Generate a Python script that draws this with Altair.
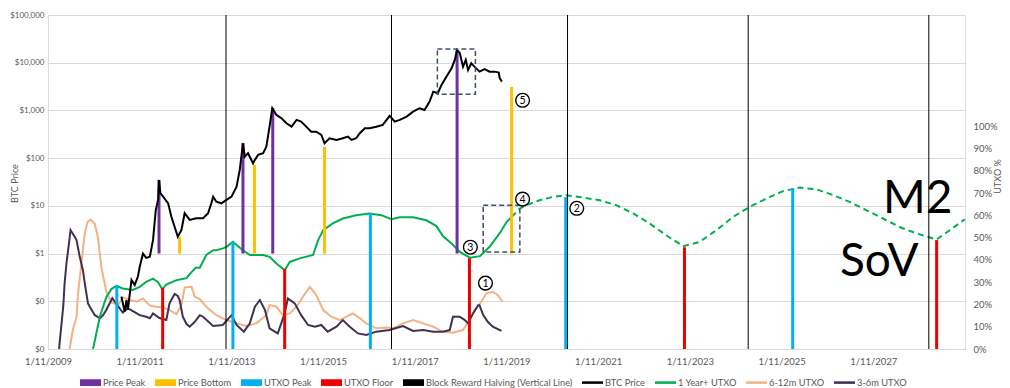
import altair as alt
import pandas as pd

# ---------------- data ----------------
price_years = [2010.63, 2010.70, 2010.74, 2010.77, 2010.85, 2010.92, 2010.99, 2011.03, 2011.10, 2011.17,
               2011.25, 2011.32, 2011.38, 2011.43, 2011.45, 2011.48, 2011.54, 2011.65, 2011.72, 2011.79,
               2011.86, 2011.94, 2012.01, 2012.12, 2012.26, 2012.41, 2012.52, 2012.59, 2012.63, 2012.70,
               2012.81, 2012.92, 2013.03, 2013.14, 2013.21, 2013.28, 2013.32, 2013.39, 2013.50, 2013.54,
               2013.61, 2013.72, 2013.79, 2013.86, 2013.92, 2014.01, 2014.12, 2014.23, 2014.34, 2014.45,
               2014.55, 2014.66, 2014.77, 2014.88, 2014.99, 2015.06, 2015.17, 2015.32, 2015.46, 2015.57,
               2015.65, 2015.75, 2015.83, 2015.94, 2016.04, 2016.19, 2016.33, 2016.48, 2016.59, 2016.70,
               2016.85, 2016.99, 2017.13, 2017.24, 2017.35, 2017.43, 2017.53, 2017.61, 2017.72, 2017.83,
               2017.90, 2017.95, 2018.01, 2018.08, 2018.14, 2018.19, 2018.26, 2018.33, 2018.44, 2018.55,
               2018.66, 2018.77, 2018.86, 2018.88, 2018.93]
price_usd = [0.125, 0.061, 0.106, 0.066, 0.28, 0.22, 0.33, 0.53, 1.0, 0.81,
             0.86, 1.93, 8.2, 13.3, 34.9, 18.4, 15.6, 11.3, 5.9, 3.66,
             2.26, 3.12, 7.0, 5.06, 5.5, 5.5, 7.0, 11.3, 15.6, 12.2,
             11.3, 13.3, 15.6, 25.3, 56.6, 205, 107, 127, 78, 92,
             117, 127, 174, 457, 1112, 805, 686, 539, 457, 632,
             582, 457, 359, 359, 306, 205, 261, 241, 261, 282,
             241, 261, 333, 423, 423, 457, 497, 767, 582, 632,
             741, 944, 1112, 1023, 1528, 2476, 2294, 3427, 5116, 7674,
             11450, 18500, 15820, 8280, 11450, 7060, 9770, 8280, 6500, 7310,
             6500, 6500, 6210, 4730, 4020]

lt_years = [2010.01, 2010.16, 2010.30, 2010.41, 2010.52, 2010.66, 2010.88, 2011.03, 2011.17, 2011.32,
            2011.43, 2011.52, 2011.61, 2011.83, 2012.05, 2012.16, 2012.25, 2012.34, 2012.48, 2012.63,
            2012.70, 2012.84, 2012.92, 2013.06, 2013.25, 2013.43, 2013.72, 2013.86, 2014.01, 2014.19,
            2014.30, 2014.52, 2014.81, 2014.92, 2015.03, 2015.24, 2015.46, 2015.75, 2016.04, 2016.30,
            2016.52, 2016.70, 2016.99, 2017.28, 2017.50, 2017.64, 2017.83, 2018.01, 2018.23, 2018.45,
            2018.66, 2018.88, 2019.03, 2019.14]
lt_pct = [0.0, 0.146, 0.233, 0.269, 0.283, 0.272, 0.265, 0.279, 0.302, 0.316,
          0.300, 0.269, 0.289, 0.309, 0.318, 0.345, 0.365, 0.365, 0.422, 0.444,
          0.444, 0.452, 0.459, 0.481, 0.448, 0.422, 0.422, 0.414, 0.384, 0.354,
          0.391, 0.407, 0.422, 0.489, 0.534, 0.564, 0.586, 0.601, 0.609, 0.601,
          0.583, 0.592, 0.592, 0.578, 0.552, 0.507, 0.474, 0.436, 0.410, 0.417,
          0.459, 0.520, 0.570, 0.593]

proj_years = [2019.14, 2019.32, 2019.46, 2019.75, 2020.04, 2020.33, 2020.62, 2021.06, 2021.42, 2021.79,
              2022.15, 2022.51, 2022.88, 2023.24, 2023.61, 2023.97, 2024.33, 2024.70, 2025.06, 2025.42,
              2025.79, 2026.15, 2026.51, 2026.88, 2027.24, 2027.60, 2027.97, 2028.41, 2028.70, 2029.02]
proj_pct = [0.593, 0.631, 0.646, 0.668, 0.683, 0.691, 0.683, 0.668, 0.646, 0.609,
            0.564, 0.511, 0.462, 0.481, 0.534, 0.593, 0.638, 0.676, 0.709, 0.725,
            0.717, 0.691, 0.661, 0.623, 0.586, 0.548, 0.519, 0.492, 0.534, 0.582]

mid_years = [2009.50, 2009.57, 2009.65, 2009.68, 2009.76, 2009.83, 2009.89, 2009.96, 2010.05, 2010.12,
             2010.19, 2010.30, 2010.41, 2010.56, 2010.66, 2010.81, 2010.96, 2011.10, 2011.25, 2011.39,
             2011.54, 2011.68, 2011.83, 2011.94, 2012.01, 2012.16, 2012.23, 2012.34, 2012.48, 2012.70,
             2012.92, 2013.14, 2013.36, 2013.57, 2013.79, 2013.86, 2014.01, 2014.15, 2014.30, 2014.45,
             2014.59, 2014.74, 2014.88, 2015.03, 2015.21, 2015.39, 2015.54, 2015.68, 2015.83, 2015.97,
             2016.19, 2016.41, 2016.55, 2016.77, 2016.99, 2017.21, 2017.43, 2017.64, 2017.86, 2018.08,
             2018.19, 2018.33, 2018.48, 2018.59, 2018.73, 2018.84, 2018.94]
mid_pct = [0.0, 0.085, 0.145, 0.242, 0.390, 0.520, 0.570, 0.581, 0.561, 0.498,
           0.369, 0.258, 0.209, 0.197, 0.231, 0.220, 0.212, 0.227, 0.195, 0.190,
           0.186, 0.175, 0.157, 0.197, 0.276, 0.279, 0.235, 0.224, 0.190, 0.152,
           0.130, 0.115, 0.103, 0.115, 0.152, 0.197, 0.190, 0.152, 0.160, 0.190,
           0.235, 0.279, 0.242, 0.175, 0.145, 0.130, 0.145, 0.160, 0.138, 0.115,
           0.093, 0.096, 0.093, 0.115, 0.130, 0.115, 0.100, 0.078, 0.073, 0.085,
           0.122, 0.175, 0.212, 0.250, 0.257, 0.242, 0.212]

short_years = [2009.27, 2009.28, 2009.36, 2009.39, 2009.43, 2009.52, 2009.61, 2009.65, 2009.72, 2009.79,
               2009.83, 2009.90, 2009.94, 2010.05, 2010.16, 2010.23, 2010.30, 2010.43, 2010.54, 2010.66,
               2010.77, 2010.88, 2011.03, 2011.17, 2011.25, 2011.32, 2011.46, 2011.61, 2011.68, 2011.79,
               2011.86, 2011.90, 2011.97, 2012.05, 2012.12, 2012.23, 2012.34, 2012.41, 2012.63, 2012.84,
               2013.03, 2013.14, 2013.30, 2013.43, 2013.54, 2013.65, 2013.76, 2013.86, 2014.04, 2014.19,
               2014.26, 2014.41, 2014.55, 2014.70, 2014.85, 2014.99, 2015.13, 2015.32, 2015.46, 2015.61,
               2015.79, 2015.97, 2016.19, 2016.48, 2016.77, 2016.99, 2017.21, 2017.43, 2017.64, 2017.79,
               2017.86, 2018.01, 2018.12, 2018.19, 2018.30, 2018.41, 2018.44, 2018.52, 2018.62, 2018.73,
               2018.92]
short_pct = [0.0, 0.025, 0.190, 0.295, 0.384, 0.534, 0.504, 0.489, 0.414, 0.354,
             0.295, 0.205, 0.190, 0.152, 0.138, 0.152, 0.175, 0.228, 0.197, 0.164,
             0.183, 0.170, 0.152, 0.145, 0.138, 0.160, 0.139, 0.130, 0.205, 0.247,
             0.238, 0.220, 0.145, 0.112, 0.100, 0.122, 0.152, 0.145, 0.103, 0.108,
             0.152, 0.108, 0.078, 0.115, 0.190, 0.220, 0.175, 0.093, 0.070, 0.160,
             0.227, 0.205, 0.152, 0.108, 0.100, 0.108, 0.078, 0.100, 0.130, 0.100,
             0.070, 0.063, 0.078, 0.085, 0.103, 0.081, 0.085, 0.078, 0.078, 0.085,
             0.145, 0.145, 0.130, 0.115, 0.160, 0.197, 0.197, 0.152, 0.122, 0.100,
             0.081]

peak_years = [2011.45, 2013.28, 2013.93, 2017.95]
peak_price = [34.9, 208, 1128, 18500]
bottom_years = [2011.90, 2013.53, 2015.06, 2019.14]
bottom_price = [2.23, 72, 172, 3110]
utxo_peak_years = [2010.53, 2013.06, 2016.06, 2020.32, 2025.27]
utxo_peak_pct = [0.287, 0.480, 0.610, 0.682, 0.722]
utxo_floor_years = [2011.53, 2014.19, 2018.22, 2022.91, 2028.41]
utxo_floor_pct = [0.274, 0.359, 0.408, 0.457, 0.489]
halving_years = [2012.91, 2016.52, 2020.36, 2024.30, 2028.24]

marker_labels = ["1", "2", "3", "4", "5"]
marker_years = [2018.57, 2020.56, 2018.24, 2019.38, 2019.38]
marker_pct = [0.296, 0.632, 0.457, 0.673, 1.117]

big_labels = ["M2", "SoV"]
big_years = [2027.24, 2026.30]
big_pct = [0.610, 0.327]

box_price_years = [2017.52, 2018.35]
box_price_range = [2187, 19450]
box_utxo_years = [2018.52, 2019.32]
box_utxo_range = [0.436, 0.646]

legend_names = ["Price Peak", "Price Bottom", "UTXO Peak", "UTXO Floor",
                "Block Reward Halving (Vertical Line)", "BTC Price", "1 Year+ UTXO",
                "6-12m UTXO", "3-6m UTXO"]

# ---------------- styling ----------------
PURPLE = "#7030A0"
GOLD = "#FFC000"
CYAN = "#00B0F0"
RED = "#EE0000"
GREEN = "#00B050"
PEACH = "#F4B183"
DARK = "#403152"
BOXC = "#3E5070"
GREY = "#595959"
FONT = "Lato"

legend_colors = [PURPLE, GOLD, CYAN, RED, "#000000", "#000000", GREEN, PEACH, DARK]
BAR = "M-1,-0.32L1,-0.32L1,0.32L-1,0.32Z"
LINE = "M-1,-0.12L1,-0.12L1,0.12L-1,0.12Z"
legend_shapes = [BAR, BAR, BAR, BAR, BAR, LINE, LINE, LINE, LINE]


def to_date(y):
    yr = int(y)
    start = pd.Timestamp(yr, 1, 1)
    end = pd.Timestamp(yr + 1, 1, 1)
    return (start + (end - start) * (y - yr)).strftime("%Y-%m-%dT%H:%M")


def frame(years, values, name="v"):
    return pd.DataFrame({"date": [to_date(y) for y in years], name: values})


xscale = alt.Scale(domain=[alt.DateTime(year=2009, month=1, date=11),
                           alt.DateTime(year=2029, month=1, date=11)])
xaxis = alt.Axis(values=[alt.DateTime(year=y, month=1, date=11) for y in range(2009, 2028, 2)],
                 format="%-m/%d/%Y", labelFlush=False, grid=False, ticks=False, domain=False,
                 labelPadding=7, labelFontSize=9.5, labelColor=GREY, labelFont=FONT, title=None)


def X(field="date"):
    return alt.X(f"{field}:T", scale=xscale, axis=xaxis)


def X2(field):
    return alt.X2(f"{field}:T")


uscale = alt.Scale(domain=[0, 1.5], nice=False, zero=False)
pscale = alt.Scale(type="log", domain=[0.01, 100000], nice=False)

right_axis = alt.Axis(orient="right", values=[i / 10 for i in range(11)], format=".0%",
                      grid=False, ticks=False, domain=False, labelPadding=8,
                      labelColor=GREY, labelFontSize=9.5, labelFont=FONT,
                      title="UTXO %", titleFontSize=9, titleColor=GREY, titleFont=FONT,
                      titleFontWeight="normal", titleAngle=270, titleX=32, titleY=161,
                      titleBaseline="middle", titleAlign="center")
left_axis = alt.Axis(orient="left", values=[0.01, 0.1, 1, 10, 100, 1000, 10000, 100000],
                     format="$,.0f", grid=True, gridColor="#D9D9D9", gridWidth=1,
                     ticks=False, domain=False, labelPadding=4,
                     labelColor=GREY, labelFontSize=8, labelFont=FONT,
                     title="BTC Price", titleFontSize=9, titleColor=GREY, titleFont=FONT,
                     titleFontWeight="normal", titleAngle=270, titleX=-34, titleY=168,
                     titleBaseline="middle", titleAlign="center")


def YU(field, axis=True):
    return alt.Y(f"{field}:Q", scale=uscale, axis=right_axis if axis else None)


def YP(field):
    return alt.Y(f"{field}:Q", scale=pscale, axis=left_axis)


# ---------------- UTXO layers (right axis) ----------------
peach = alt.Chart(frame(mid_years, mid_pct)).mark_line(color=PEACH, strokeWidth=2).encode(x=X(), y=YU("v"))
dark = alt.Chart(frame(short_years, short_pct)).mark_line(color=DARK, strokeWidth=2).encode(x=X(), y=YU("v"))
green = alt.Chart(frame(lt_years, lt_pct)).mark_line(color=GREEN, strokeWidth=2).encode(x=X(), y=YU("v"))
green_proj = alt.Chart(frame(proj_years, proj_pct)).mark_line(
    color=GREEN, strokeWidth=2, strokeDash=[6, 4], clip=True).encode(x=X(), y=YU("v"))

ubar_peak_df = frame(utxo_peak_years, utxo_peak_pct).assign(base=0.0)
ubar_floor_df = frame(utxo_floor_years, utxo_floor_pct).assign(base=0.0)
cyan_bars = alt.Chart(ubar_peak_df).mark_rule(color=CYAN, strokeWidth=3).encode(
    x=X(), y=YU("v"), y2=alt.Y2("base:Q"))
red_bars = alt.Chart(ubar_floor_df).mark_rule(color=RED, strokeWidth=3).encode(
    x=X(), y=YU("v"), y2=alt.Y2("base:Q"))

utxo_group = alt.layer(peach, dark, green, green_proj, cyan_bars, red_bars)

# ---------------- price layers (left axis) ----------------
halving = alt.Chart(pd.DataFrame({"date": [to_date(y) for y in halving_years]})).mark_rule(
    color="#000000", strokeWidth=1).encode(x=X())
pbar_peak_df = frame(peak_years, peak_price).assign(base=1.0)
pbar_bottom_df = frame(bottom_years, bottom_price).assign(base=1.0)
purple_bars = alt.Chart(pbar_peak_df).mark_rule(color=PURPLE, strokeWidth=3).encode(
    x=X(), y=YP("v"), y2=alt.Y2("base:Q"))
gold_bars = alt.Chart(pbar_bottom_df).mark_rule(color=GOLD, strokeWidth=3).encode(
    x=X(), y=YP("v"), y2=alt.Y2("base:Q"))
price_line = alt.Chart(frame(price_years, price_usd)).mark_line(
    color="#000000", strokeWidth=2).encode(x=X(), y=YP("v"))

box1_df = pd.DataFrame({"d1": [to_date(box_price_years[0])], "d2": [to_date(box_price_years[1])],
                        "lo": [box_price_range[0]], "hi": [box_price_range[1]]})
box1 = alt.Chart(box1_df).mark_rect(fillOpacity=0, stroke=BOXC, strokeWidth=1.5,
                                    strokeDash=[5, 3]).encode(
    x=X("d1"), x2=X2("d2"), y=YP("lo"), y2=alt.Y2("hi:Q"))

leg = alt.Legend(title=None, orient="none", legendX=32, legendY=357, direction="horizontal",
                 columns=9, symbolSize=441, symbolOpacity=1, symbolStrokeWidth=0,
                 labelFontSize=9.3, labelColor=GREY, labelFont=FONT, labelOffset=2,
                 columnPadding=9)
legend_df = pd.DataFrame({"series": legend_names, "date": [to_date(2010.0)] * 9, "v": [1.0] * 9})
legend_layer = alt.Chart(legend_df).mark_point(filled=True, opacity=0).encode(
    x=X(), y=YP("v"),
    color=alt.Color("series:N", scale=alt.Scale(domain=legend_names, range=legend_colors), legend=leg),
    shape=alt.Shape("series:N", scale=alt.Scale(domain=legend_names, range=legend_shapes), legend=leg),
)

price_group = alt.layer(halving, purple_bars, gold_bars, price_line, box1, legend_layer)

# ---------------- annotations (UTXO scale, no axis) ----------------
box2_df = pd.DataFrame({"d1": [to_date(box_utxo_years[0])], "d2": [to_date(box_utxo_years[1])],
                        "lo": [box_utxo_range[0]], "hi": [box_utxo_range[1]]})
box2 = alt.Chart(box2_df).mark_rect(fillOpacity=0, stroke=BOXC, strokeWidth=1.5,
                                    strokeDash=[5, 3]).encode(
    x=X("d1"), x2=X2("d2"), y=YU("lo", False), y2=alt.Y2("hi:Q"))

marker_df = frame(marker_years, marker_pct).assign(label=marker_labels)
circles = alt.Chart(marker_df).mark_point(shape="circle", size=190, filled=False,
                                          stroke="#000000", strokeWidth=1.4, fill="#FFFFFF",
                                          fillOpacity=1, opacity=1).encode(x=X(), y=YU("v", False))
numbers = alt.Chart(marker_df).mark_text(fontSize=10.5, font=FONT, color="#000000",
                                         baseline="middle", align="center", dy=0.5).encode(
    x=X(), y=YU("v", False), text="label:N")
big_df = frame(big_years, big_pct).assign(label=big_labels)
big_text = alt.Chart(big_df).mark_text(fontSize=46, font=FONT, color="#000000",
                                       baseline="alphabetic", align="left").encode(
    x=X(), y=YU("v", False), text="label:N")

annot_group = alt.layer(box2, circles, numbers, big_text)

chart = alt.layer(utxo_group, price_group, annot_group).resolve_scale(
    y="independent"
).properties(
    width=917, height=334,
    autosize=alt.AutoSizeParams(type="none"),
    padding={"left": 40, "top": 7, "right": 37, "bottom": 45},
    background="#FFFFFF",
).configure_view(stroke=None).configure(font=FONT)

chart.save("out.html", embed_options={"renderer": "svg", "actions": False})
